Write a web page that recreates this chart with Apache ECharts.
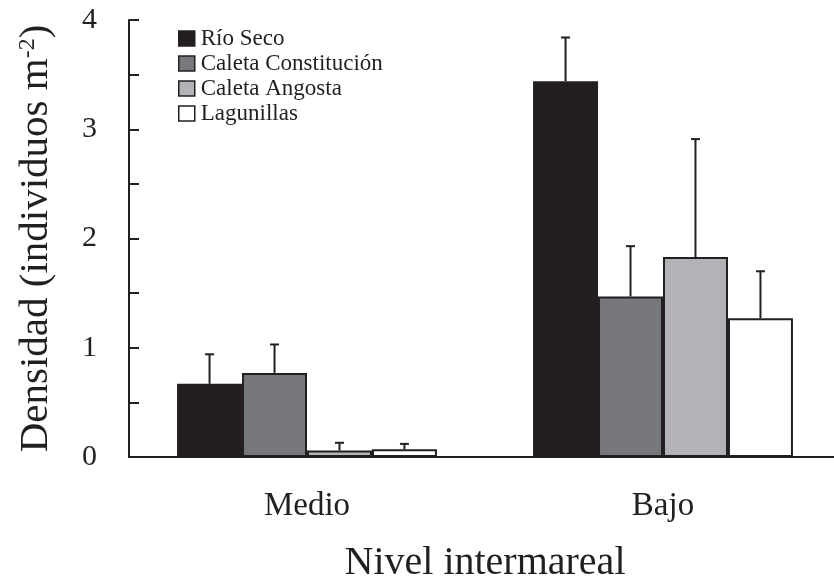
<!DOCTYPE html>
<html>
<head>
<meta charset="utf-8">
<script src="https://cdn.jsdelivr.net/npm/echarts@6/dist/echarts.min.js"></script>
<style>
  html, body { margin: 0; padding: 0; background: #fff; }
  #chart { width: 834px; height: 581px; }
</style>
</head>
<body>
<div id="chart"></div>
<script>
// Density (individuals per m²) by intertidal level and site, mean + SD
const categories = ['Medio', 'Bajo'];
const siteNames = ['Río Seco', 'Caleta Constitución', 'Caleta Angosta', 'Lagunillas'];

const rioSeco = [0.67, 3.44];
const rioSecoSD = [0.27, 0.40];
const caletaConstitucion = [0.77, 1.47];
const caletaConstitucionSD = [0.26, 0.46];
const caletaAngosta = [0.06, 1.83];
const caletaAngostaSD = [0.07, 1.08];
const lagunillas = [0.07, 1.27];
const lagunillasSD = [0.05, 0.43];

const yTicks = [0, 1, 2, 3, 4];

const means = [rioSeco, caletaConstitucion, caletaAngosta, lagunillas];
const sds = [rioSecoSD, caletaConstitucionSD, caletaAngostaSD, lagunillasSD];
const fills = ['#231f20', '#77787b', '#b1b3b6', '#ffffff'];
const ink = '#231f20';
const serif = '"Liberation Serif", "Times New Roman", serif';
const groupGap = 0.27;

// [categoryIndex, siteIndex, mean, sd] for the error whiskers
const errData = [];
means.forEach((arr, s) => arr.forEach((v, c) => errData.push([c, s, v, sds[s][c]])));

const barSeries = siteNames.map((name, s) => ({
  name: name,
  type: 'bar',
  data: means[s],
  barGap: '0%',
  barCategoryGap: (groupGap * 100) + '%',
  itemStyle: { color: fills[s], borderColor: ink, borderWidth: 2 },
  emphasis: { disabled: true }
}));

const chart = echarts.init(document.getElementById('chart'), null, { renderer: 'canvas' });
chart.setOption({
  animation: false,
  backgroundColor: '#ffffff',
  textStyle: { fontFamily: serif, color: ink },
  grid: { left: 129, top: 20, width: 712, height: 437, containLabel: false, outerBoundsMode: 'none' },
  legend: {
    orient: 'vertical',
    left: 178,
    top: 27,
    padding: 0,
    itemWidth: 16,
    itemHeight: 15,
    itemGap: 2,
    icon: 'rect',
    data: siteNames,
    itemStyle: { borderColor: ink, borderWidth: 1.5 },
    textStyle: { fontFamily: serif, fontSize: 23, color: ink, lineHeight: 23, padding: [0, 0, 0, 1] },
    selectedMode: false
  },
  xAxis: {
    type: 'category',
    data: categories,
    name: 'Nivel intermareal',
    nameLocation: 'middle',
    nameGap: 86,
    nameTextStyle: { fontFamily: serif, fontSize: 40, color: ink },
    axisLine: { lineStyle: { color: ink, width: 2 } },
    axisTick: { show: false },
    axisLabel: { fontFamily: serif, fontSize: 33, color: ink, margin: 33 },
    splitLine: { show: false }
  },
  yAxis: {
    type: 'value',
    min: 0,
    max: 4,
    interval: 1,
    name: '{t|Densidad (individuos m}{s|-2}{t|)}',
    nameLocation: 'middle',
    nameGap: 72,
    nameRotate: 90,
    nameTextStyle: {
      rich: {
        t: { fontFamily: serif, fontSize: 41, color: ink },
        s: { fontFamily: serif, fontSize: 24, color: ink, verticalAlign: 'top', padding: [0, 0, 17, 0] }
      }
    },
    axisLine: { show: true, lineStyle: { color: ink, width: 2 } },
    axisTick: { show: true, inside: true, length: 10, lineStyle: { color: ink, width: 2 } },
    minorTick: { show: true, splitNumber: 2, length: 10, lineStyle: { color: ink, width: 2 } },
    axisLabel: {
      fontFamily: serif, fontSize: 30, color: ink, margin: 32,
      formatter: v => (yTicks.indexOf(v) >= 0 ? String(v) : '')
    },
    splitLine: { show: false },
    minorSplitLine: { show: false }
  },
  series: barSeries.concat([{
    type: 'custom',
    name: 'sd',
    data: errData,
    z: 5,
    silent: true,
    encode: { x: 0, y: 2 },
    renderItem: function (params, api) {
      const cat = api.value(0);
      const s = api.value(1);
      const mean = api.value(2);
      const sd = api.value(3);
      const band = api.size([1, 0])[0];
      const bw = band * (1 - groupGap) / siteNames.length;
      const cx = api.coord([cat, 0])[0] + (s - (siteNames.length - 1) / 2) * bw;
      const yBase = api.coord([cat, mean])[1];
      const yTop = api.coord([cat, mean + sd])[1];
      const half = 4.5;
      const style = { stroke: ink, lineWidth: 2 };
      return {
        type: 'group',
        children: [
          { type: 'line', shape: { x1: cx, y1: yBase, x2: cx, y2: yTop }, style: style },
          { type: 'line', shape: { x1: cx - half, y1: yTop, x2: cx + half, y2: yTop }, style: style }
        ]
      };
    }
  }])
});
</script>
</body>
</html>
